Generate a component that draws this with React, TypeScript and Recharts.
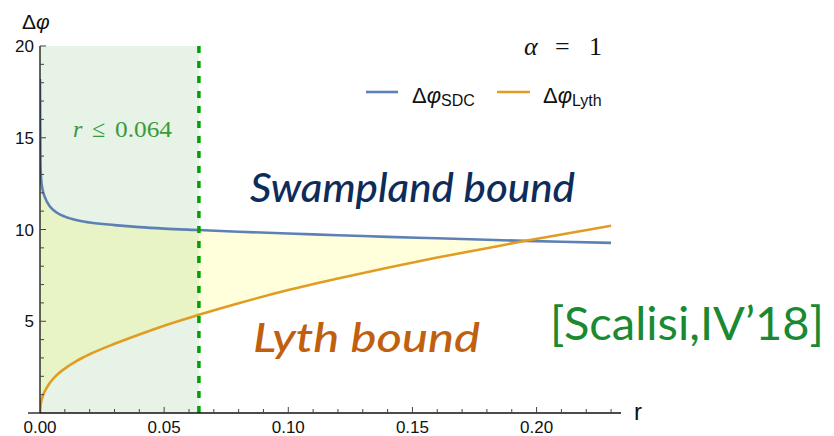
import React from "react";
import {
  ComposedChart,
  Line,
  Area,
  XAxis,
  YAxis,
  ReferenceArea,
  ReferenceLine,
} from "recharts";

// ---- data ----
const rValues = [0, 0.0002, 0.0005, 0.001, 0.002, 0.004, 0.007, 0.01, 0.015, 0.02, 0.03, 0.04, 0.05, 0.064, 0.08, 0.1, 0.12, 0.14, 0.16, 0.18, 0.195, 0.21, 0.23];
const sdcValues = [18.2, 13.6, 12.7, 12.2, 11.75, 11.25, 10.9, 10.7, 10.5, 10.38, 10.24, 10.13, 10.05, 9.97, 9.88, 9.78, 9.69, 9.6, 9.52, 9.44, 9.38, 9.33, 9.27];
const lythValues = [0, 0.38, 0.62, 0.88, 1.2, 1.65, 2.1, 2.42, 2.85, 3.2, 3.77, 4.28, 4.76, 5.35, 5.98, 6.7, 7.33, 7.92, 8.47, 8.98, 9.37, 9.73, 10.2];
const xTicks = [0, 0.01, 0.02, 0.03, 0.04, 0.05, 0.06, 0.07, 0.08, 0.09, 0.1, 0.11, 0.12, 0.13, 0.14, 0.15, 0.16, 0.17, 0.18, 0.19, 0.2, 0.21, 0.22, 0.23];
const yTicks = [0, 1, 2, 3, 4, 5, 6, 7, 8, 9, 10, 11, 12, 13, 14, 15, 16, 17, 18, 19, 20];
const rBound = 0.064;
const xMax = 0.234;
const yMax = 20;

const data = rValues.map((r, i) => ({
  r,
  sdc: sdcValues[i],
  lyth: lythValues[i],
  band: [lythValues[i], Math.max(lythValues[i], sdcValues[i])],
}));

const BLUE = "#5e81b5";
const ORANGE = "#e19c24";
const SANS = "'Liberation Sans', Arial, sans-serif";
const SERIF = "'Liberation Serif', 'DejaVu Serif', serif";

const XTick = (props: any) => {
  const { x, y, payload } = props;
  const v = payload.value as number;
  const major = Math.abs(v * 20 - Math.round(v * 20)) < 1e-6;
  return (
    <g>
      {v > 0 && (
        <line x1={x} x2={x} y1={y} y2={y - (major ? 6 : 4)} stroke="#444" strokeWidth={1} />
      )}
      {major && (
        <text x={x} y={y + 20} textAnchor="middle" fontSize={17} fontFamily={SANS} fill="#111">
          {v.toFixed(2)}
        </text>
      )}
    </g>
  );
};

const YTick = (props: any) => {
  const { x, y, payload } = props;
  const v = payload.value as number;
  const major = v % 5 === 0;
  return (
    <g>
      {v > 0 && (
        <line x1={x} x2={x + (major ? 6 : 4)} y1={y} y2={y} stroke="#444" strokeWidth={1} />
      )}
      {major && v > 0 && (
        <text x={x - 6} y={y + 6} textAnchor="end" fontSize={17} fontFamily={SANS} fill="#111">
          {v}
        </text>
      )}
    </g>
  );
};

export default function App() {
  return (
    <div style={{ position: "absolute", left: 0, top: 0, width: 834, height: 436, background: "#fff" }}>
      <ComposedChart
        width={834}
        height={436}
        data={data}
        margin={{ top: 46, right: 213, bottom: 0, left: 0 }}
      >
        <XAxis
          dataKey="r"
          type="number"
          domain={[0, xMax]}
          ticks={xTicks}
          interval={0}
          tick={<XTick />}
          tickLine={false}
          tickSize={0}
          tickMargin={0}
          height={23}
          axisLine={{ stroke: "#111", strokeWidth: 1.3 }}
          allowDataOverflow
        />
        <YAxis
          type="number"
          domain={[0, yMax]}
          ticks={yTicks}
          interval={0}
          tick={<YTick />}
          tickLine={false}
          tickSize={0}
          tickMargin={0}
          width={40}
          axisLine={{ stroke: "#111", strokeWidth: 1.3 }}
          allowDataOverflow
        />
        <ReferenceArea
          x1={0}
          x2={rBound}
          y1={0}
          y2={yMax}
          fill="#008000"
          fillOpacity={0.098}
          stroke="none"
        />
        <Area
          dataKey="band"
          type="monotone"
          fill="#ffff00"
          fillOpacity={0.137}
          stroke="none"
          isAnimationActive={false}
          activeDot={false}
        />
        <Line
          dataKey="sdc"
          type="monotone"
          stroke={BLUE}
          strokeWidth={2.6}
          dot={false}
          activeDot={false}
          isAnimationActive={false}
        />
        <Line
          dataKey="lyth"
          type="monotone"
          stroke={ORANGE}
          strokeWidth={2.6}
          dot={false}
          activeDot={false}
          isAnimationActive={false}
        />
        <ReferenceLine
          x={rBound}
          stroke="#00a000"
          strokeWidth={3.5}
          strokeDasharray="7 8"
        />
      </ComposedChart>
      <svg
        width={834}
        height={436}
        style={{ position: "absolute", left: 0, top: 0, pointerEvents: "none" }}
      >
        <line x1={28} x2={40} y1={413} y2={413} stroke="#111" strokeWidth={1.3} />
        <text x={22} y={29} fontSize={21} fontFamily={SANS} fill="#111">
          Δ<tspan fontStyle="italic">φ</tspan>
        </text>
        <text x={634} y={420} fontSize={24} fontFamily={SANS} fill="#111">r</text>
        <text x={524} y={55} fontSize={26} fontFamily={SERIF} fill="#111">
          <tspan fontStyle="italic">α</tspan>
          <tspan x={555}>=</tspan>
          <tspan x={589}>1</tspan>
        </text>
        <line x1={366} x2={398} y1={92} y2={92} stroke={BLUE} strokeWidth={2.6} />
        <text x={412} y={103} fontSize={22} fontFamily={SANS} fill="#111">
          Δ<tspan fontStyle="italic">φ</tspan>
          <tspan fontSize={16} dy={3}>SDC</tspan>
        </text>
        <line x1={497} x2={530} y1={92} y2={92} stroke={ORANGE} strokeWidth={2.6} />
        <text x={543} y={103} fontSize={22} fontFamily={SANS} fill="#111">
          Δ<tspan fontStyle="italic">φ</tspan>
          <tspan fontSize={16} dy={3}>Lyth</tspan>
        </text>
        <text y={137} fontSize={24} fontFamily={SERIF} fill="#3a9a3a">
          <tspan x={73} fontStyle="italic">r</tspan>
          <tspan x={92}>≤</tspan>
          <tspan x={115} textLength={57} lengthAdjust="spacingAndGlyphs">0.064</tspan>
        </text>
        <text
          x={250}
          y={202}
          fontSize={41}
          fontFamily="Lato, 'Noto Sans', sans-serif"
          fontStyle="italic"
          fontWeight={500}
          fill="#0d2c5a"
          textLength={325}
          lengthAdjust="spacingAndGlyphs"
        >
          Swampland bound
        </text>
        <text
          x={253}
          y={352}
          fontSize={41}
          fontFamily="Lato, 'Noto Sans', sans-serif"
          fontStyle="italic"
          fontWeight={500}
          fill="#c0600f"
          textLength={227}
          lengthAdjust="spacingAndGlyphs"
        >
          Lyth bound
        </text>
        <text
          x={550}
          y={340}
          fontSize={47}
          fontFamily="Lato, 'Open Sans', sans-serif"
          fill="#1a8a32"
          textLength={274}
          lengthAdjust="spacingAndGlyphs"
        >
          [Scalisi,IV’18]
        </text>
      </svg>
    </div>
  );
}
